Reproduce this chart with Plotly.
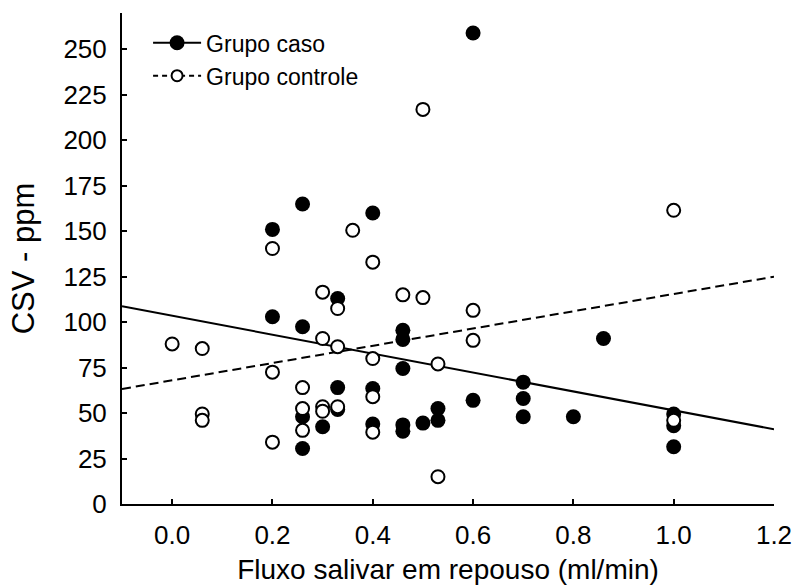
import plotly.graph_objects as go

# Grupo caso (filled circles)
caso_x = [0.2, 0.2, 0.26, 0.26, 0.26, 0.26, 0.3, 0.33, 0.33, 0.33, 0.4, 0.4, 0.4,
          0.46, 0.46, 0.46, 0.46, 0.46, 0.5, 0.53, 0.53, 0.6, 0.6, 0.7, 0.7, 0.7,
          0.8, 0.86, 1.0, 1.0, 1.0]
caso_y = [151, 103, 165, 97.5, 48, 30.5, 42.5, 113, 64, 52, 160, 63.5, 44,
          95.5, 90.5, 74.5, 43.5, 40, 44.5, 52.5, 46, 259, 57, 67, 58, 48,
          48, 91, 49.5, 43, 31.5]

# Grupo controle (open circles)
ctrl_x = [0.0, 0.06, 0.06, 0.06, 0.2, 0.2, 0.2, 0.26, 0.26, 0.26, 0.3, 0.3, 0.3, 0.3,
          0.33, 0.33, 0.33, 0.36, 0.4, 0.4, 0.4, 0.4, 0.46, 0.5, 0.5, 0.53, 0.53,
          0.6, 0.6, 1.0, 1.0]
ctrl_y = [88, 85.5, 49.5, 46, 140.5, 72.5, 34, 64, 52.5, 40.5, 116.5, 91, 53.5, 51,
          107.5, 86.5, 53.5, 150.5, 133, 80, 59, 39.5, 115, 217, 113.5, 77, 15,
          106.5, 90, 161.5, 46]

# Regression lines (intercept at x=0, slope)
line_x = [-0.1, 1.2]
caso_fit = (103.5, -52.0)
ctrl_fit = (68.0, 47.5)

x_ticks = [0.0, 0.2, 0.4, 0.6, 0.8, 1.0, 1.2]
y_ticks = [0, 25, 50, 75, 100, 125, 150, 175, 200, 225, 250]

FONT = "Liberation Sans, Arial, sans-serif"

fig = go.Figure()
fig.add_trace(go.Scatter(
    x=line_x, y=[caso_fit[0] + caso_fit[1] * v for v in line_x],
    mode="lines", line=dict(color="black", width=2), showlegend=False, hoverinfo="skip"))
fig.add_trace(go.Scatter(
    x=line_x, y=[ctrl_fit[0] + ctrl_fit[1] * v for v in line_x],
    mode="lines", line=dict(color="black", width=2, dash="9px,5px"), showlegend=False,
    hoverinfo="skip"))
fig.add_trace(go.Scatter(
    x=caso_x, y=caso_y, mode="markers", showlegend=False,
    marker=dict(symbol="circle", size=15, color="black", line=dict(width=0))))
fig.add_trace(go.Scatter(
    x=ctrl_x, y=ctrl_y, mode="markers", showlegend=False,
    marker=dict(symbol="circle", size=13, color="white", line=dict(width=2, color="black"))))

# legend entries
fig.add_trace(go.Scatter(
    x=[None], y=[None], mode="lines+markers", name="Grupo caso",
    line=dict(color="black", width=2),
    marker=dict(symbol="circle", size=15, color="black", line=dict(width=0))))
fig.add_trace(go.Scatter(
    x=[None], y=[None], mode="lines+markers", name="Grupo controle",
    line=dict(color="black", width=2, dash="5px,4px"),
    marker=dict(symbol="circle", size=11, color="white", line=dict(width=2, color="black"))))

fig.update_layout(
    width=796, height=587,
    margin=dict(l=122, r=22, t=13, b=83),
    paper_bgcolor="white", plot_bgcolor="white",
    font=dict(family=FONT, color="black"),
    showlegend=True,
    legend=dict(x=0.04, y=0.983, xanchor="left", yanchor="top",
                font=dict(size=23, family=FONT, color="black"),
                bgcolor="rgba(0,0,0,0)", itemwidth=48, tracegroupgap=0),
)
fig.update_xaxes(
    range=[-0.1, 1.2], tickvals=x_ticks, ticktext=[f"{v:.1f}" for v in x_ticks],
    showline=True, linecolor="black", linewidth=2, showgrid=False, zeroline=False,
    ticks="inside", ticklen=5, tickwidth=2, tickcolor="black", automargin=False,
    tickfont=dict(size=26, family=FONT, color="black"), ticklabelstandoff=7,
    title=dict(text="Fluxo salivar em repouso (ml/min)", font=dict(size=28, family=FONT),
               standoff=10),
)
fig.update_yaxes(
    range=[0, 270], tickvals=y_ticks,
    showline=True, linecolor="black", linewidth=2, showgrid=False, zeroline=False,
    ticks="inside", ticklen=5, tickwidth=2, tickcolor="black", automargin=False,
    tickfont=dict(size=26, family=FONT, color="black"), ticklabelstandoff=8,
    title=dict(text="CSV - ppm", font=dict(size=31, family=FONT), standoff=20),
)

fig.write_html(
    "out.html",
    config={"displayModeBar": False},
    post_script="document.body.style.margin='0';document.body.style.overflow='hidden';",
)
